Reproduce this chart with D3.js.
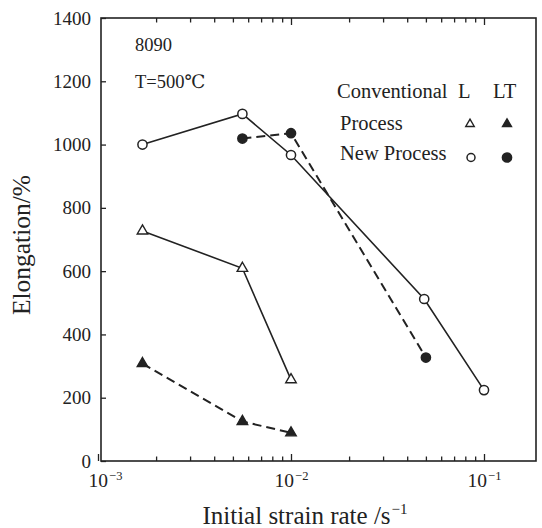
<!DOCTYPE html>
<html>
<head>
<meta charset="utf-8">
<script src="https://cdn.jsdelivr.net/npm/d3@7/dist/d3.min.js"></script>
<style>
  html, body { margin: 0; padding: 0; background: #fff; }
  svg { display: block; font-family: "Liberation Serif", "DejaVu Serif", serif; }
  svg text { font-family: "Liberation Serif", "DejaVu Serif", serif; fill: #222; }
</style>
</head>
<body>
<svg id="chart" width="542" height="528"></svg>
<script>
// Elongation of 8090 alloy vs. initial strain rate at 500 °C
const newL_rate   = [1.7e-3, 5.6e-3, 1e-2, 4.9e-2, 1e-1];
const newL_elong  = [1000, 1097, 967, 512, 224];
const newLT_rate  = [5.6e-3, 1e-2, 5e-2];
const newLT_elong = [1019, 1036, 327];
const convL_rate  = [1.7e-3, 5.6e-3, 1e-2];
const convL_elong = [727, 609, 257];
const convLT_rate = [1.7e-3, 5.6e-3, 1e-2];
const convLT_elong= [308, 125, 89];

const yTicks = [0, 200, 400, 600, 800, 1000, 1200, 1400];
const xMajor = [1e-3, 1e-2, 1e-1];
const xMajorExp = ["\u22123", "\u22122", "\u22121"];
const xMinor = [2,3,4,5,6,7,8,9].map(k => k * 1e-3).concat([2,3,4,5,6,7,8,9].map(k => k * 1e-2));

const legendRows = ["Process", "New Process"];

const svg = d3.select("#chart");
const frame = { left: 101, right: 536, top: 18, bottom: 461 };

const x = d3.scaleLog().domain([1e-3, 1e-1]).range([98, 484]);
const y = d3.scaleLinear().domain([0, 1400]).range([frame.bottom, frame.top]);

const ink = "#222";
const serif = "'Liberation Serif', 'DejaVu Serif', serif";

// Bottom axis: majors with labels, minors unlabeled
const gB = svg.append("g").attr("transform", `translate(0,${frame.bottom})`);
gB.call(d3.axisBottom(x).tickValues(xMajor).tickSizeInner(-7).tickSizeOuter(0).tickPadding(12).tickFormat(() => ""));
gB.attr("font-family", serif);
gB.selectAll(".tick text").each(function(d, i) {
  // first label nudged right, clear of the frame corner
  const t = d3.select(this).attr("font-size", 19.5).attr("fill", ink).attr("dx", i === 0 ? 7 : 0);
  t.append("tspan").text("10");
  t.append("tspan").attr("font-size", 12.5).attr("dy", "-0.55em").attr("dx", "1").text(xMajorExp[i]);
});
const gBm = svg.append("g").attr("transform", `translate(0,${frame.bottom})`);
gBm.call(d3.axisBottom(x).tickValues(xMinor).tickSizeInner(-4.5).tickSizeOuter(0).tickFormat(""));

// Top axis mirror ticks
const gT = svg.append("g").attr("transform", `translate(0,${frame.top})`);
gT.call(d3.axisTop(x).tickValues(xMajor.slice(1)).tickSizeInner(-7).tickSizeOuter(0).tickFormat(""));
const gTm = svg.append("g").attr("transform", `translate(0,${frame.top})`);
gTm.call(d3.axisTop(x).tickValues(xMinor).tickSizeInner(-4.5).tickSizeOuter(0).tickFormat(""));

// Left axis
const gL = svg.append("g").attr("transform", `translate(${frame.left},0)`);
gL.call(d3.axisLeft(y).tickValues(yTicks).tickSizeInner(-5).tickSizeOuter(0).tickPadding(10).tickFormat(d3.format("d")));
gL.attr("font-family", serif);
gL.selectAll(".tick text").attr("font-size", 19).attr("fill", ink);

svg.selectAll(".domain").remove();
svg.selectAll(".tick line").attr("stroke", ink).attr("stroke-width", 1.3);

// Plot frame
svg.append("rect")
  .attr("x", frame.left).attr("y", frame.top)
  .attr("width", frame.right - frame.left).attr("height", frame.bottom - frame.top)
  .attr("fill", "none").attr("stroke", ink).attr("stroke-width", 1.6);

// Axis titles
const xt = svg.append("text").attr("x", 305).attr("y", 524).attr("text-anchor", "middle")
  .attr("font-size", 25).attr("fill", ink);
xt.append("tspan").text("Initial strain rate /s");
xt.append("tspan").attr("font-size", 15).attr("dy", "-0.65em").attr("dx", "1").text("\u22121");

svg.append("text").attr("transform", "translate(30,245) rotate(-90)")
  .attr("text-anchor", "middle").attr("font-size", 25.5).attr("fill", ink)
  .text("Elongation/%");

// Annotations
svg.append("text").attr("x", 135).attr("y", 51).attr("font-size", 18.5).text("8090");
svg.append("text").attr("x", 135).attr("y", 88).attr("font-size", 18.5).text("T=500\u2103");

// Series
const line = d3.line().x(d => x(d[0])).y(d => y(d[1]));
const zip = (a, b) => a.map((v, i) => [v, b[i]]);

const series = [
  { pts: zip(convLT_rate, convLT_elong), dash: "9,5", marker: "triangle", filled: true },
  { pts: zip(convL_rate, convL_elong), dash: null, marker: "triangle", filled: false },
  { pts: zip(newLT_rate, newLT_elong), dash: "9,5", marker: "circle", filled: true },
  { pts: zip(newL_rate, newL_elong), dash: null, marker: "circle", filled: false }
];

series.forEach(s => {
  svg.append("path").datum(s.pts).attr("d", line)
    .attr("fill", "none").attr("stroke", ink)
    .attr("stroke-width", s.dash ? 2 : 1.6)
    .attr("stroke-dasharray", s.dash);
});

const triSym = d3.symbol().type(d3.symbolTriangle);
// size: circle radius, or triangle side length
function drawMarker(g, type, filled, cx, cy, size) {
  if (type === "circle") {
    g.append("circle").attr("cx", cx).attr("cy", cy).attr("r", size)
      .attr("fill", filled ? ink : "#fff").attr("stroke", ink).attr("stroke-width", 1.5);
  } else {
    g.append("path").attr("d", triSym.size(Math.sqrt(3) / 4 * size * size)())
      .attr("transform", `translate(${cx},${cy})`)
      .attr("fill", filled ? ink : "#fff").attr("stroke", ink).attr("stroke-width", 1.4);
  }
}

series.forEach(s => {
  const g = svg.append("g");
  s.pts.forEach(p => drawMarker(g, s.marker, s.filled, x(p[0]), y(p[1]), s.marker === "circle" ? 4.6 : 10.5));
});

// Legend
const lg = svg.append("g");
lg.append("text").attr("x", 337).attr("y", 98).attr("font-size", 20.5).text("Conventional");
lg.append("text").attr("x", 458).attr("y", 98).attr("font-size", 20.5).text("L");
lg.append("text").attr("x", 493).attr("y", 98).attr("font-size", 20.5).text("LT");
lg.append("text").attr("x", 340).attr("y", 130).attr("font-size", 20.5).text(legendRows[0]);
lg.append("text").attr("x", 340).attr("y", 160).attr("font-size", 20.5).text(legendRows[1]);
drawMarker(lg, "triangle", false, 470, 124, 8.5);
drawMarker(lg, "triangle", true, 507, 124, 9);
drawMarker(lg, "circle", false, 471, 157.5, 4);
drawMarker(lg, "circle", true, 507, 157.5, 4.6);
</script>
</body>
</html>
